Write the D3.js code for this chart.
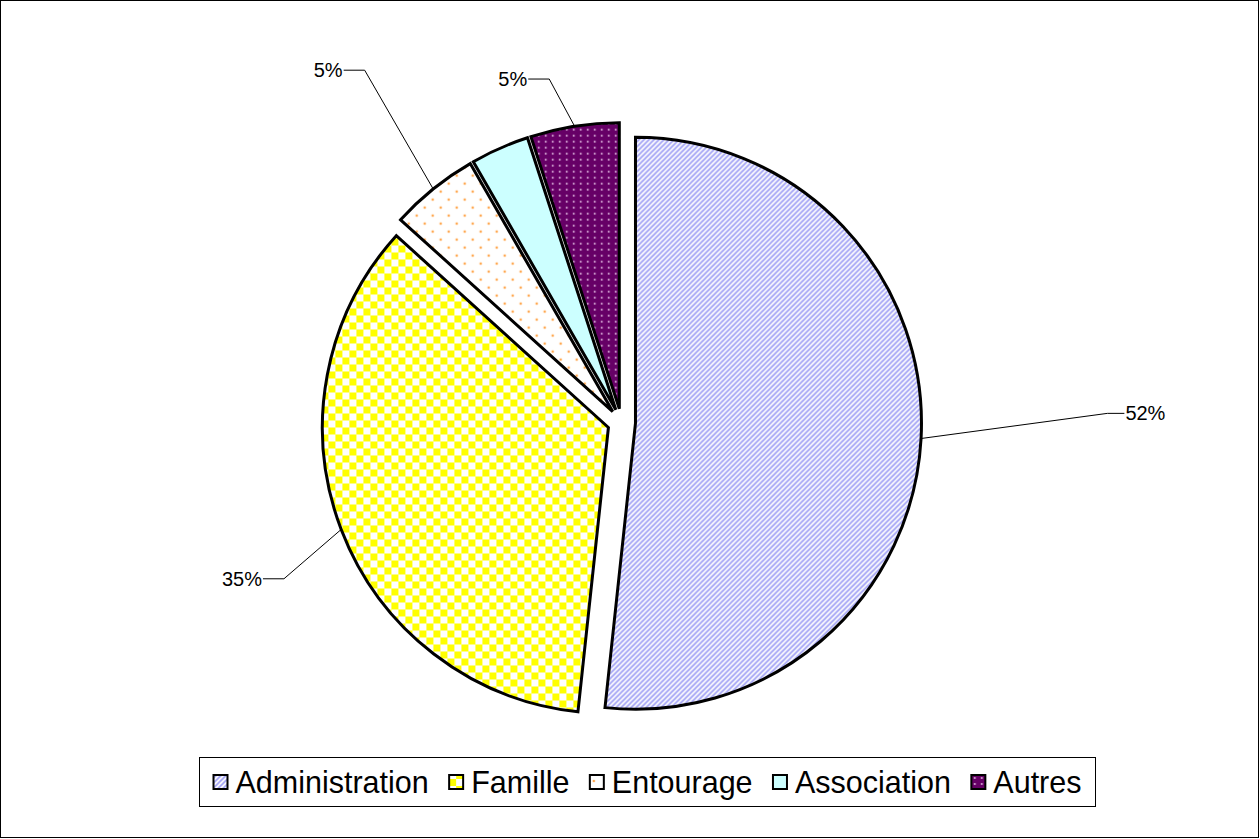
<!DOCTYPE html>
<html lang="fr">
<head>
    <meta charset="utf-8">
    <title>Répartition</title>
    <script src="https://cdnjs.cloudflare.com/ajax/libs/d3/7.8.5/d3.min.js"></script>
    <style>
        body{ margin: 0; background: white; }
        svg{ display: block; font-family: Arial, "Liberation Sans", sans-serif; }
    </style>
</head>
<body>
<div id="chart"></div>
<script>

// data (percent of total)
var categories = ["Administration", "Famille", "Entourage", "Association", "Autres"]
var values = [51.7, 35.0, 5.0, 3.3, 5.0]
var showLabel = [true, true, true, false, true]

// where each data label sits: angle (deg, clockwise from top) and distance from slice centre
var labelAngle = [88.8, 245, 324, 348]
var labelDist = [472, 358, 422, 337]

var width = 1260, height = 839
var cx = 621.5, cy = 422.5, radius = 286, explode = 14

var svg = d3.select("#chart").append("svg")
    .attr("width", width)
    .attr("height", height)

// outer frame
svg.append("rect")
    .attr("x", 0.5).attr("y", 0.5)
    .attr("width", width - 2).attr("height", height - 2)
    .attr("fill", "white").attr("stroke", "black")

// fill patterns
var defs = svg.append("defs")

var pAdmin = defs.append("pattern").attr("id", "p0")
    .attr("patternUnits", "userSpaceOnUse").attr("width", 5).attr("height", 5)
pAdmin.append("rect").attr("width", 5).attr("height", 5).attr("fill", "white")
pAdmin.append("path").attr("d", "M-1,1 L1,-1 M0,5 L5,0 M4,6 L6,4")
    .attr("stroke", "#9c9cf4").attr("stroke-width", 1.6)

var pFam = defs.append("pattern").attr("id", "p1")
    .attr("patternUnits", "userSpaceOnUse").attr("width", 14).attr("height", 14)
pFam.append("rect").attr("width", 14).attr("height", 14).attr("fill", "white")
pFam.append("rect").attr("width", 7).attr("height", 7).attr("fill", "#ffff00")
pFam.append("rect").attr("x", 7).attr("y", 7).attr("width", 7).attr("height", 7).attr("fill", "#ffff00")

var pEnt = defs.append("pattern").attr("id", "p2")
    .attr("patternUnits", "userSpaceOnUse").attr("width", 16).attr("height", 16)
pEnt.append("rect").attr("width", 16).attr("height", 16).attr("fill", "white")
pEnt.append("circle").attr("cx", 4).attr("cy", 4).attr("r", 1.3).attr("fill", "#ffa850")
pEnt.append("circle").attr("cx", 12).attr("cy", 12).attr("r", 1.3).attr("fill", "#ffa850")

var pAss = defs.append("pattern").attr("id", "p3")
    .attr("patternUnits", "userSpaceOnUse").attr("width", 4).attr("height", 4)
pAss.append("rect").attr("width", 4).attr("height", 4).attr("fill", "#ccffff")

var pAut = defs.append("pattern").attr("id", "p4")
    .attr("patternUnits", "userSpaceOnUse").attr("width", 7).attr("height", 6)
pAut.append("rect").attr("width", 7).attr("height", 6).attr("fill", "#660066")
pAut.append("circle").attr("cx", 3.5).attr("cy", 3).attr("r", 0.9).attr("fill", "#f0d0f0")

var pie = d3.pie().sort(null).value(d => d)
var arcs = pie(values)

var arc = d3.arc().innerRadius(0).outerRadius(radius)

// centre of each exploded slice
arcs.forEach(function(d){
    var mid = (d.startAngle + d.endAngle) / 2
    d.mid = mid
    d.ox = cx + Math.sin(mid) * explode
    d.oy = cy - Math.cos(mid) * explode
})

var slices = svg.append("g")
    .selectAll("g.slice")
    .data(arcs)
    .enter()
    .append("g")
    .attr("class", "slice")
    .attr("transform", d => "translate(" + d.ox + "," + d.oy + ")")

slices.append("path")
    .attr("d", arc)
    .attr("fill", (d, i) => "url(#p" + i + ")")
    .attr("stroke", "black")
    .attr("stroke-width", 3)
    .attr("stroke-linejoin", "miter")

// data labels with leader lines
var li = 0
arcs.forEach(function(d, i){
    if (!showLabel[i]) return
    var a = labelAngle[li] * Math.PI / 180, dist = labelDist[li]
    li++
    var sx = d.ox + Math.sin(d.mid) * radius
    var sy = d.oy - Math.cos(d.mid) * radius
    var ex = d.ox + Math.sin(a) * dist
    var ey = d.oy - Math.cos(a) * dist
    var right = ex > sx
    var tx = right ? ex + 18 : ex - 22
    svg.append("path")
        .attr("d", "M" + sx + "," + sy + "L" + ex + "," + ey + "H" + (right ? ex + 17 : ex - 21))
        .attr("fill", "none")
        .attr("stroke", "black")
        .attr("stroke-width", 1)
    svg.append("text")
        .attr("x", tx)
        .attr("y", ey + 7)
        .attr("text-anchor", right ? "start" : "end")
        .style("font-size", "20px")
        .text(Math.round(values[i]) + "%")
})

// legend
var legend = svg.append("g")
var lgX = 199.5, lgW = 896, pad = 14
legend.append("rect")
    .attr("x", lgX).attr("y", 757.5)
    .attr("width", lgW).attr("height", 49)
    .attr("fill", "white").attr("stroke", "black").attr("stroke-width", 1)

var items = legend.selectAll("g.item")
    .data(categories)
    .enter()
    .append("g")
    .attr("class", "item")

items.append("rect")
    .attr("width", 14).attr("height", 14)
    .attr("y", -18)
    .attr("fill", (d, i) => "url(#p" + i + ")")
    .attr("stroke", "black").attr("stroke-width", 2)

items.append("text")
    .attr("x", 22)
    .style("font-size", "30.5px")
    .text(d => d)

var sw = []
items.each(function(d){
    sw.push(22 + d3.select(this).select("text").node().getComputedTextLength())
})
var gap = (lgW - 2 * pad - d3.sum(sw)) / (sw.length - 1)
items.attr("transform", function(d, i){
    var x = lgX + pad + d3.sum(sw.slice(0, i)) + gap * i
    return "translate(" + x + ",793)"
})

</script>
</body>
</html>
